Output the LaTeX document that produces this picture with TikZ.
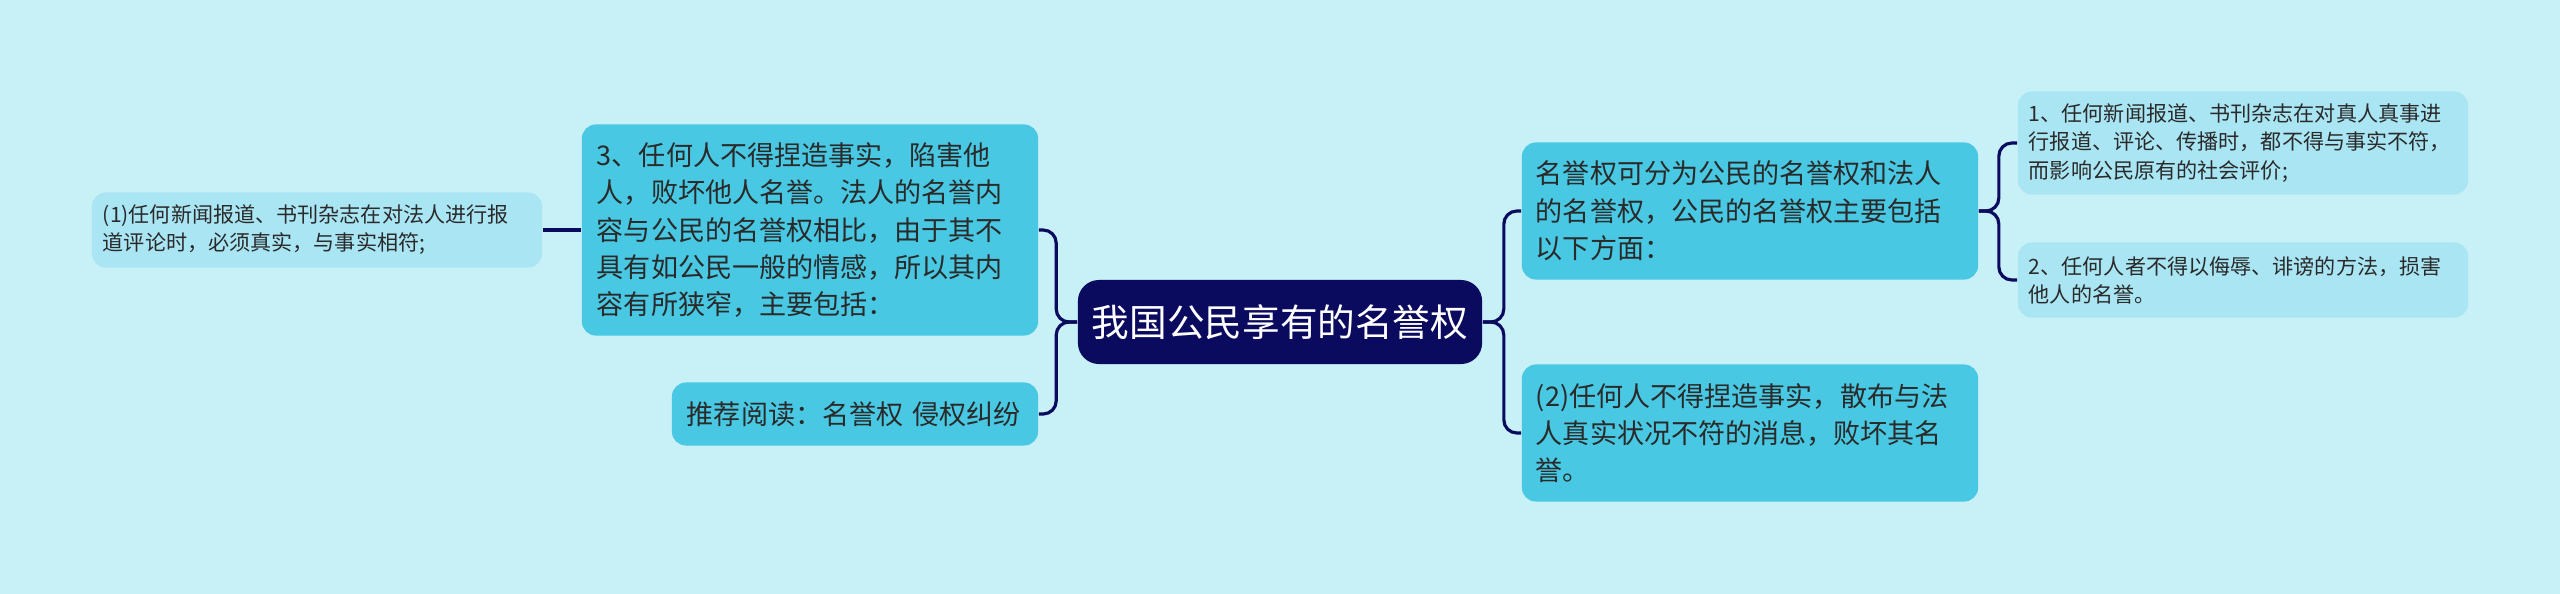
\documentclass[tikz,border=0pt]{standalone}
\usepackage{fontspec}
\usepackage{xcolor}
\usepackage{tikz}
\usetikzlibrary{positioning}
\newfontfamily\cjk{Noto Sans CJK SC}
\definecolor{mapbg}{HTML}{C8F0F7}
\definecolor{mapnavy}{HTML}{0A0A5E}
\definecolor{mapcyan}{HTML}{48C8E2}
\definecolor{mapleaf}{HTML}{A9E5F3}
\definecolor{mapink}{HTML}{2A2A2A}

\begin{document}
\begin{tikzpicture}[
        x=0.01cm, y=-0.01cm,
        every node/.style={align=left, inner sep=0pt},
        root/.style={fill=mapnavy, text=white, rounded corners=6pt, minimum width=4.04cm, minimum height=0.84cm, align=center, font=\cjk\fontsize{10.7pt}{13pt}\selectfont},
        topic/.style={fill=mapcyan, text=mapink, rounded corners=4pt, minimum width=4.56cm, font=\cjk\fontsize{7.7pt}{10.6pt}\selectfont},
        leaf/.style={fill=mapleaf, text=mapink, rounded corners=4pt, minimum width=4.50cm, text width=4.28cm, font=\cjk\fontsize{6pt}{8pt}\selectfont},
        link/.style={draw=mapnavy, line width=0.9pt, rounded corners=0.13cm}
    ]
        \fill[mapbg] (0,0) rectangle (2560,594);
        \useasboundingbox (0,0) rectangle (2560,594);
        \node[root] (center) at (1280,322) {我国公民享有的名誉权};
        \node[topic, text width=4.26cm, minimum height=2.11cm] (duty) at (810,230) {3、任何人不得捏造事实，陷害他\\人，败坏他人名誉。法人的名誉内\\容与公民的名誉权相比，由于其不\\具有如公民一般的情感，所以其内\\容有所狭窄，主要包括：};
        \node[leaf, minimum height=0.75cm] (press) at (317,230) {(1)任何新闻报道、书刊杂志在对法人进行报\\道评论时，必须真实，与事实相符;};
        \node[topic, text width=3.36cm, minimum width=3.66cm, minimum height=0.63cm] (read) at (855,414) {推荐阅读：名誉权 侵权纠纷};
        \node[topic, text width=4.28cm, minimum height=1.37cm] (kinds) at (1750,211) {名誉权可分为公民的名誉权和法人\\的名誉权，公民的名誉权主要包括\\以下方面：};
        \node[topic, text width=4.28cm, minimum height=1.37cm] (fake) at (1750,433) {(2)任何人不得捏造事实，散布与法\\人真实状况不符的消息，败坏其名\\誉。};
        \node[leaf, minimum height=1.03cm] (news) at (2243,143) {1、任何新闻报道、书刊杂志在对真人真事进\\行报道、评论、传播时，都不得与事实不符，\\而影响公民原有的社会评价;};
        \node[leaf, minimum height=0.75cm] (insult) at (2243,280) {2、任何人者不得以侮辱、诽谤的方法，损害\\他人的名誉。};
        \draw[link] (center.west) -- ++(-21,0) |- (duty.east);
        \draw[link] (center.west) -- ++(-21,0) |- (read.east);
        \draw[link] (duty.west) -- (press.east);
        \draw[link] (center.east) -- ++(21,0) |- (kinds.west);
        \draw[link] (center.east) -- ++(21,0) |- (fake.west);
        \draw[link] (kinds.east) -- ++(20,0) |- (news.west);
        \draw[link] (kinds.east) -- ++(20,0) |- (insult.west);
    \end{tikzpicture}
\end{document}
